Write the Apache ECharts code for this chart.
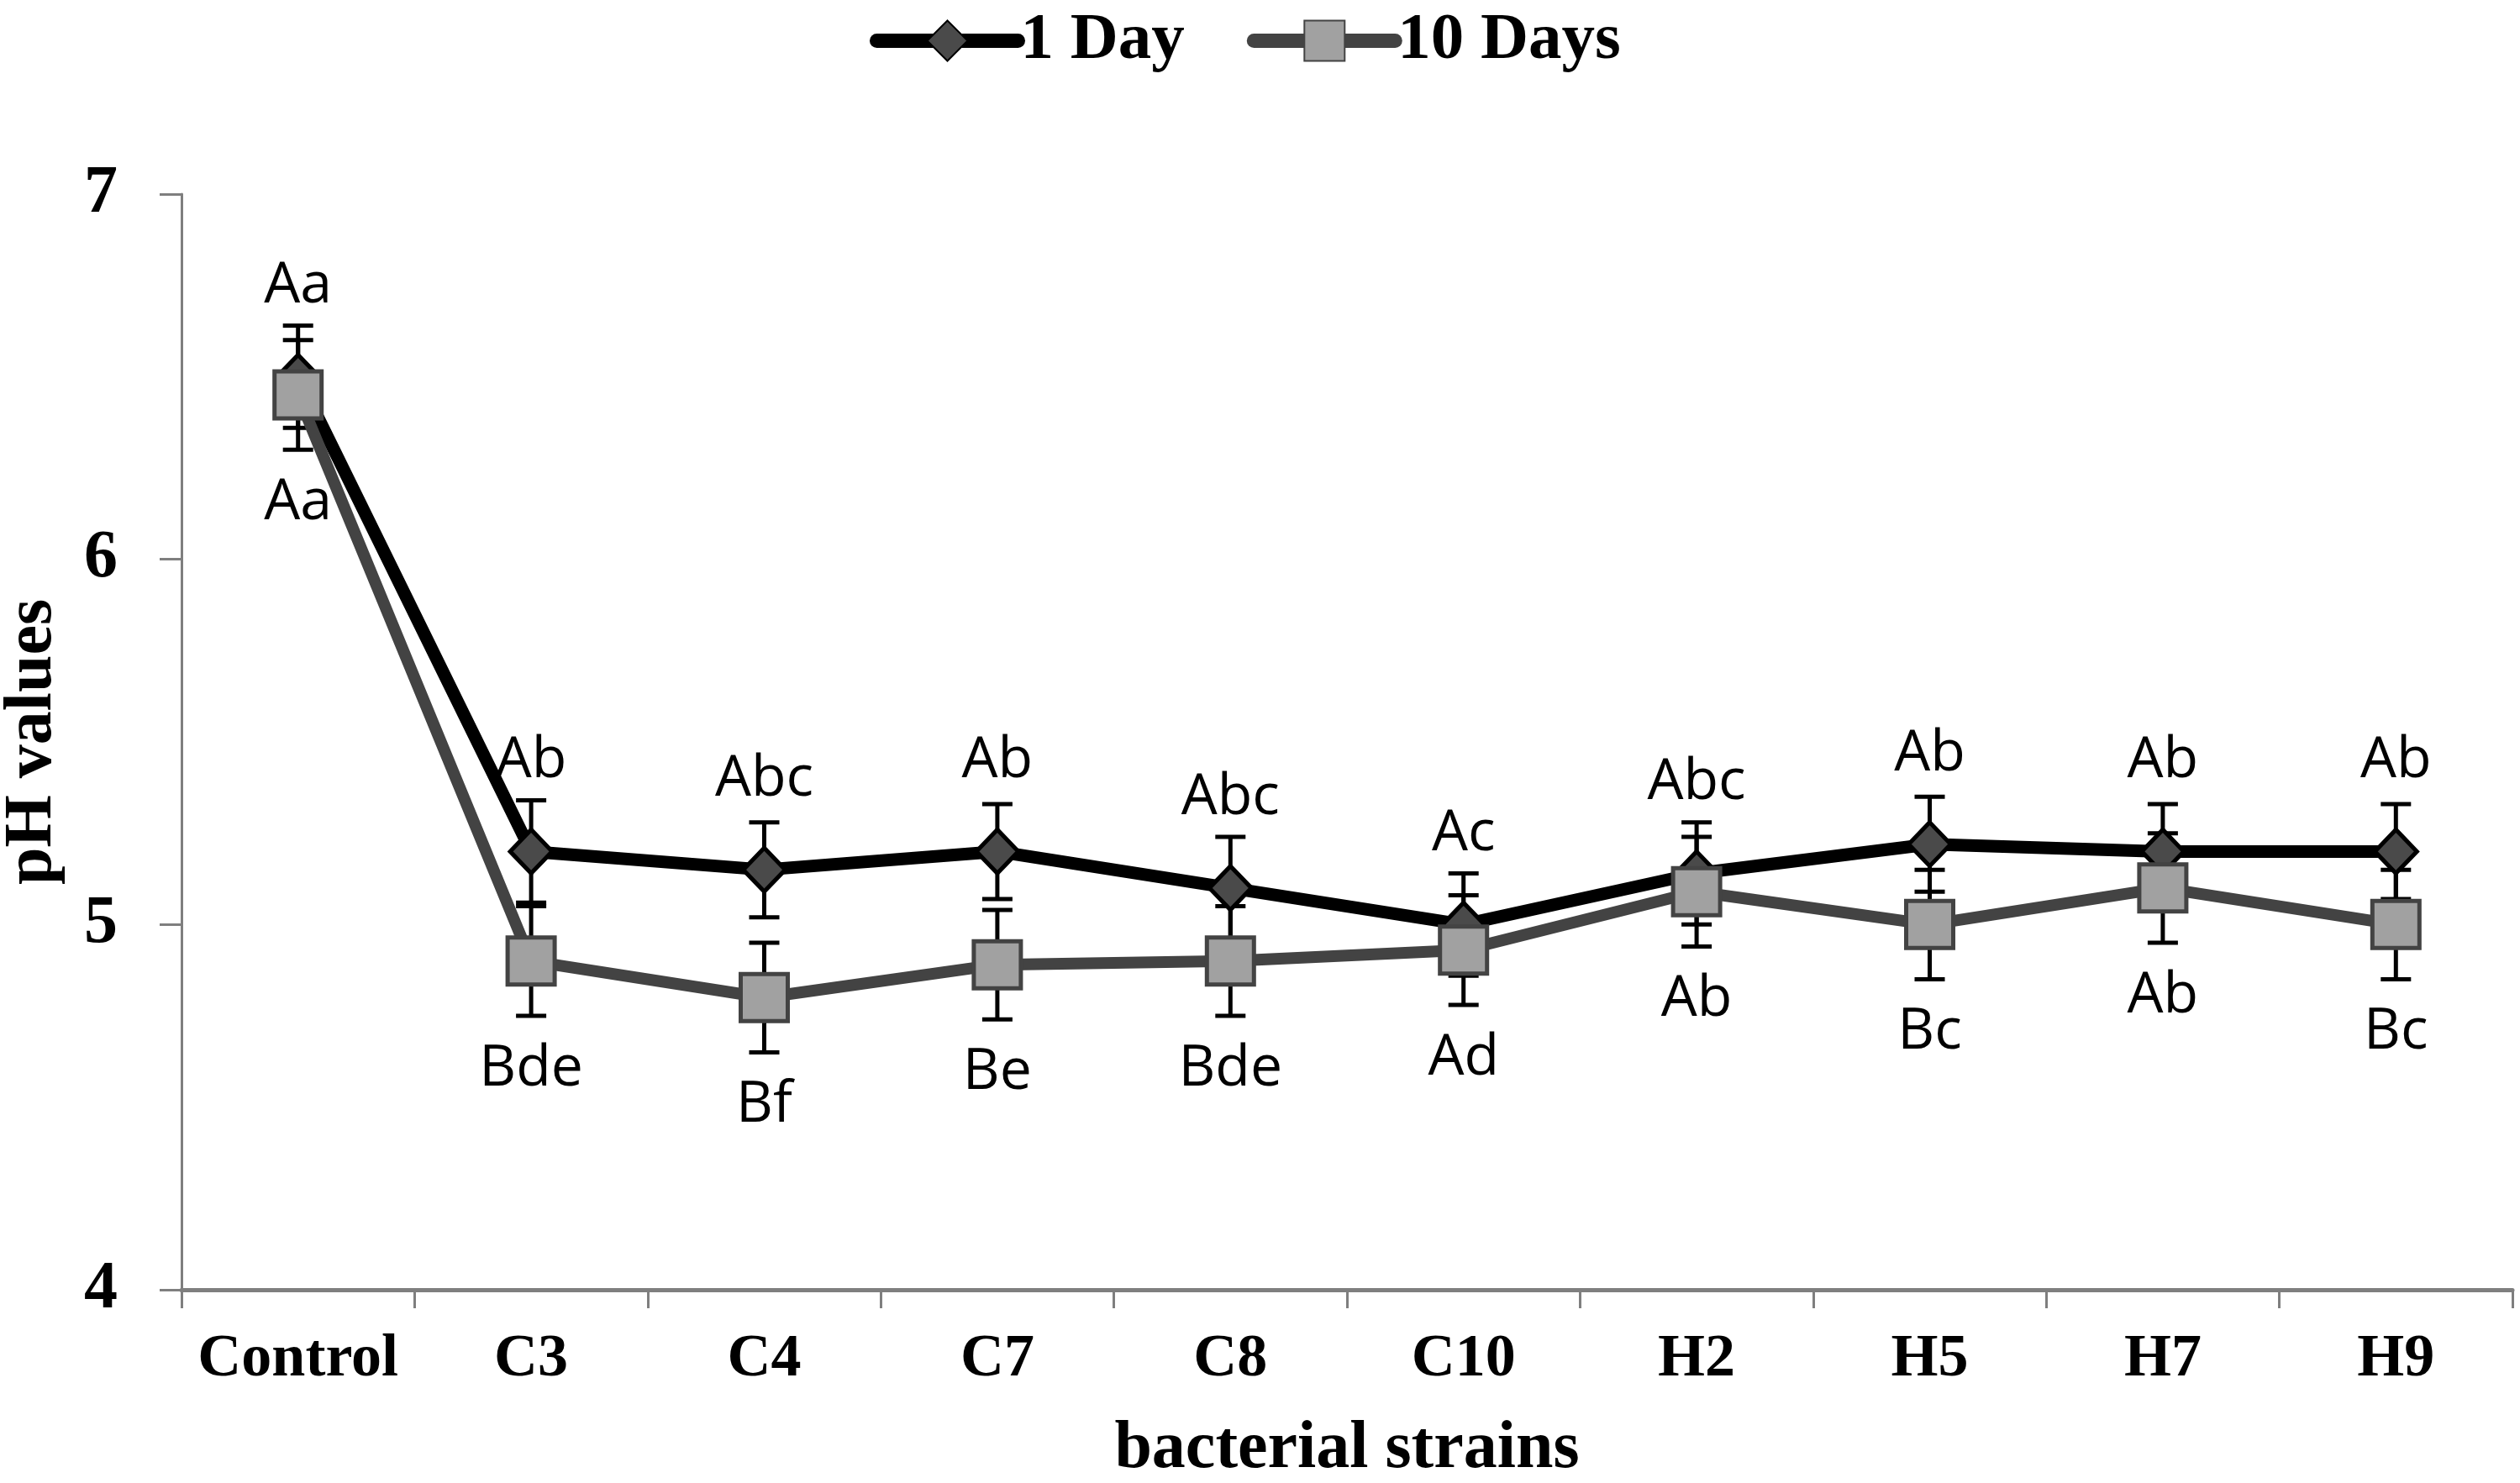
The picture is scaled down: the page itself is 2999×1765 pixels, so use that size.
<!DOCTYPE html>
<html>
<head>
<meta charset="utf-8">
<script src="https://cdn.jsdelivr.net/npm/echarts@6/dist/echarts.min.js"></script>
<style>
html, body { margin: 0; padding: 0; background: #fff; }
#main { width: 2999px; height: 1765px; }
</style>
</head>
<body>
<div id="main"></div>
<script>
// strains on the x axis
var strains = ['Control', 'C3', 'C4', 'C7', 'C8', 'C10', 'H2', 'H5', 'H7', 'H9'];
// mean pH after 1 day and after 10 days
var day1 = [6.50, 5.20, 5.15, 5.20, 5.10, 5.00, 5.14, 5.22, 5.20, 5.20];
var day10 = [6.45, 4.90, 4.80, 4.89, 4.90, 4.93, 5.09, 5.00, 5.10, 5.00];
// error bar half lengths
var day1Err = [0.14, 0.14, 0.13, 0.13, 0.14, 0.14, 0.14, 0.13, 0.13, 0.13];
var day10Err = [0.15, 0.15, 0.15, 0.15, 0.15, 0.15, 0.15, 0.15, 0.15, 0.15];
// significance letters
var day1Letters = ['Aa', 'Ab', 'Abc', 'Ab', 'Abc', 'Ac', 'Abc', 'Ab', 'Ab', 'Ab'];
var day10Letters = ['Aa', 'Bde', 'Bf', 'Be', 'Bde', 'Ad', 'Ab', 'Bc', 'Ab', 'Bc'];
var yTicks = [4, 5, 6, 7];

var serif = 'Liberation Serif';
var sans = 'Open Sans';

var myChart = echarts.init(document.getElementById('main'));

function errData(vals, errs) {
	return vals.map(function (v, i) { return [i, v, errs[i]]; });
}

function renderErr(params, api) {
	var i = api.value(0), v = api.value(1), e = api.value(2);
	var hi = api.coord([i, v + e]);
	var lo = api.coord([i, v - e]);
	var w = 18;
	var st = { stroke: '#000', lineWidth: 5 };
	return {
		type: 'group',
		children: [
			{ type: 'line', shape: { x1: hi[0], y1: hi[1], x2: lo[0], y2: lo[1] }, style: st },
			{ type: 'line', shape: { x1: hi[0] - w, y1: hi[1], x2: hi[0] + w, y2: hi[1] }, style: st },
			{ type: 'line', shape: { x1: lo[0] - w, y1: lo[1], x2: lo[0] + w, y2: lo[1] }, style: st }
		]
	};
}

var option = {
	backgroundColor: '#fff',
	animation: false,
	legend: {
		data: ['1 Day', '10 Days'],
		left: 1030,
		top: 4,
		itemWidth: 168,
		itemHeight: 60,
		itemGap: 74,
		lineStyle: { width: 17, cap: 'round' },
		textStyle: { fontFamily: serif, fontWeight: 'bold', fontSize: 79, color: '#000', padding: [0, 0, 0, -2] }
	},
	grid: { left: 216, right: 9, top: 231, bottom: 230, containLabel: false, outerBoundsMode: 'none' },
	xAxis: {
		type: 'category',
		data: strains,
		boundaryGap: true,
		name: 'bacterial strains',
		nameLocation: 'middle',
		nameGap: 150,
		nameTextStyle: { fontFamily: serif, fontWeight: 'bold', fontSize: 80, color: '#000' },
		axisLine: { lineStyle: { color: '#7f7f7f', width: 5 } },
		axisTick: { show: true, alignWithLabel: false, length: 22, lineStyle: { color: '#7f7f7f', width: 3 } },
		axisLabel: { margin: 47, fontFamily: serif, fontWeight: 'bold', fontSize: 72, color: '#000', interval: 0 },
		splitLine: { show: false }
	},
	yAxis: {
		type: 'value',
		min: yTicks[0],
		max: yTicks[yTicks.length - 1],
		interval: 1,
		name: 'pH values',
		nameLocation: 'middle',
		nameGap: 137,
		nameTextStyle: { fontFamily: serif, fontWeight: 'bold', fontSize: 80, color: '#000' },
		axisLine: { show: true, lineStyle: { color: '#7f7f7f', width: 3 } },
		axisTick: { show: true, length: 26, lineStyle: { color: '#7f7f7f', width: 3 } },
		axisLabel: { margin: 76, fontFamily: serif, fontWeight: 'bold', fontSize: 80, color: '#000' },
		splitLine: { show: false }
	},
	series: [
		{
			type: 'custom',
			name: 'err1',
			renderItem: renderErr,
			data: errData(day1, day1Err),
			z: 1,
			silent: true
		},
		{
			type: 'custom',
			name: 'err10',
			renderItem: renderErr,
			data: errData(day10, day10Err),
			z: 1,
			silent: true
		},
		{
			name: '1 Day',
			type: 'line',
			data: day1,
			z: 3,
			symbol: 'diamond',
			symbolSize: [50, 52],
			showAllSymbol: true,
			lineStyle: { color: '#000', width: 15 },
			itemStyle: { color: '#4a4a4a', borderColor: '#000', borderWidth: 5 },
			label: {
				show: true,
				position: 'top',
				distance: 45,
				fontFamily: sans,
				fontSize: 68,
				color: '#000',
				formatter: function (p) { return day1Letters[p.dataIndex]; }
			}
		},
		{
			name: '10 Days',
			type: 'line',
			data: day10,
			z: 4,
			symbol: 'rect',
			symbolSize: 56,
			showAllSymbol: true,
			lineStyle: { color: '#434343', width: 14 },
			itemStyle: { color: '#a1a1a1', borderColor: '#434343', borderWidth: 5 },
			label: {
				show: true,
				position: 'bottom',
				distance: 64,
				fontFamily: sans,
				fontSize: 68,
				color: '#000',
				formatter: function (p) { return day10Letters[p.dataIndex]; }
			}
		}
	]
};

myChart.setOption(option);
</script>
</body>
</html>
